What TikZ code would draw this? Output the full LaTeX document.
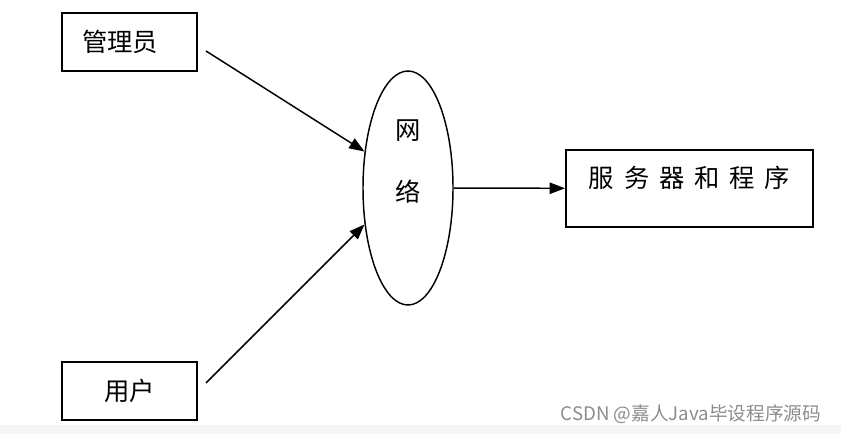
\documentclass[tikz,border=0pt]{standalone}
\usepackage{fontspec}
\newfontfamily\cjk{Noto Sans CJK SC}
\usepackage{tikz}
\usetikzlibrary{arrows.meta,positioning,shapes.geometric}

\begin{document}
\begin{tikzpicture}[
    x=0.75pt, y=-0.75pt,
    font=\cjk\fontsize{19}{23}\selectfont,
    box/.style={draw, line width=1.5pt, minimum width=101.25pt, minimum height=43.5pt},
    arrow/.style={-{Triangle[length=11.5pt, width=8.5pt]}, line width=1.1pt}
  ]
    \useasboundingbox (0,0) rectangle (841,434);
    \fill[gray!8] (0,425) rectangle (841,434);
    \node[box, text width=71.25pt, inner xsep=15pt, align=left] (admin) at (129.5,42) {管理员};
    \node[box] (user) at (129.5,391) {用户};
    \node[ellipse, draw, line width=1.1pt, minimum width=67.5pt, minimum height=175.5pt,
      align=center, text depth=41.3pt] (network) at (408,188) {网\\[23pt]络};
    \node[box, minimum width=185.25pt, minimum height=57.75pt, text height=10pt, text depth=12pt]
      (server) at (689.5,188.5) {服\hspace{7.4pt}务\hspace{7.4pt}器\hspace{7.4pt}和\hspace{7.4pt}程\hspace{7.4pt}序};
    \draw[arrow] ([shift={(8,9)}]admin.east) -- (network.140);
    \draw[arrow] ([shift={(8,-8)}]user.east) -- (network.220);
    \draw[arrow] (network) -- (server);
    \node[anchor=east, text=black!45, font=\cjk\fontsize{14}{16}\selectfont] (csdn) at (826,414)
      {CSDN @嘉人Java毕设程序源码};
  \end{tikzpicture}
\end{document}
